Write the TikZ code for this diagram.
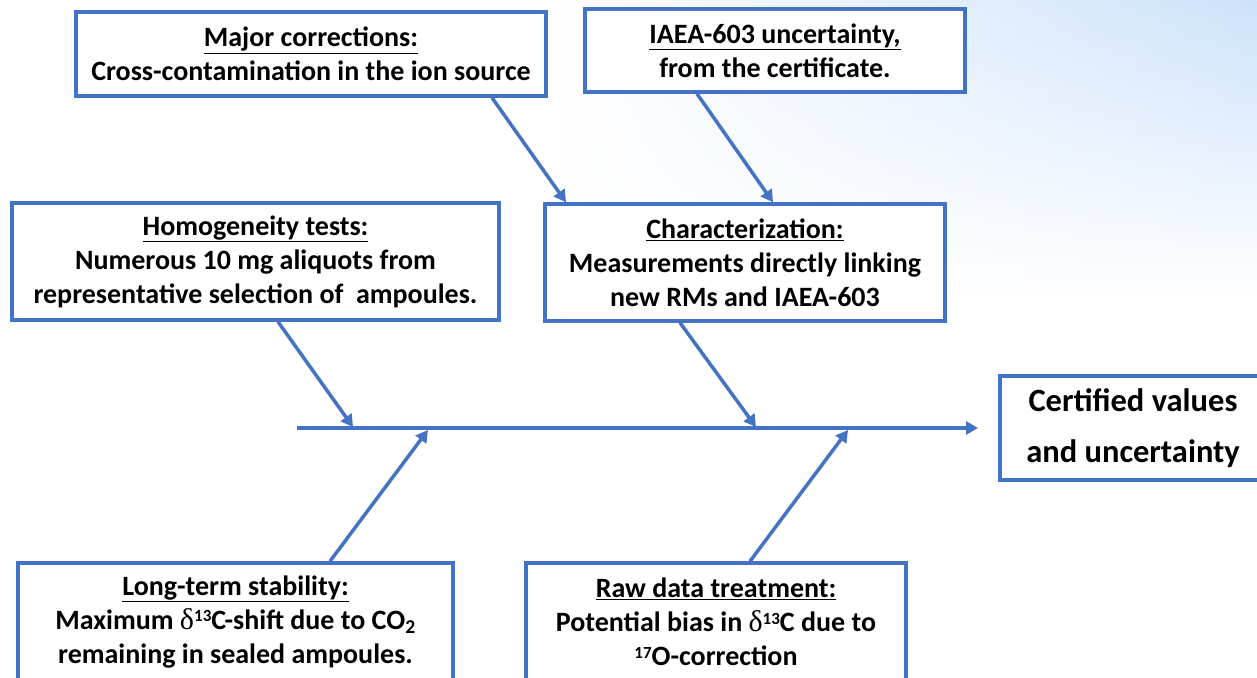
\documentclass[tikz,border=0pt]{standalone}
\usepackage{fontspec}
\setmainfont{Carlito}
\newfontfamily\dfont{Liberation Serif}
\usetikzlibrary{arrows.meta,fadings}
\definecolor{fblue}{HTML}{4472C4}
\definecolor{bgblue}{RGB}{205,226,251}
\tikzfading[name=fadeleftside, left color=transparent!100, right color=transparent!0]
\tikzset{
  box/.style={draw=fblue, line width=3.5pt, fill=white, align=center, inner sep=0pt,
    font=\bfseries\fontsize{28}{34}\selectfont},
  conn/.style={draw=fblue, line width=3.5pt, -{Triangle[length=12pt,width=13pt]}},
}
\newcommand{\dl}{{\dfont\mdseries\fontsize{30}{34}\selectfont δ}}
\newcommand{\sups}[1]{\raisebox{0.55ex}{\fontsize{17}{20}\selectfont #1}}
\begin{document}
\begin{tikzpicture}[x=1pt,y=-1pt]
\useasboundingbox (0,0) rectangle (1257,677);
\clip (0,0) rectangle (1257,677);
\fill[white] (0,0) rectangle (1257,677);
\shade[top color=bgblue, bottom color=white, path fading=fadeleftside] (560,0) rectangle (1257,300);

\node[box, minimum width=470, minimum height=84] (A) at (311,54)
  {\underline{Major corrections:}\\Cross-contamination in the ion source};
\node[box, minimum width=380, minimum height=83] (B) at (775,50.5)
  {\underline{IAEA-603 uncertainty,}\\from the certificate.};
\node[box, minimum width=487, minimum height=117] (C) at (255.5,261.5)
  {\underline{Homogeneity tests:}\\Numerous 10 mg aliquots from\\representative selection of\ \ ampoules.};
\node[box, minimum width=400, minimum height=117] (D) at (745,262.5)
  {\underline{Characterization:}\\Measurements directly linking\\new RMs and IAEA-603};
\node[box, minimum width=266, minimum height=104, font=\bfseries\fontsize{32.5}{51}\selectfont] (E) at (1133,428)
  {Certified values\\and uncertainty};
\node[box, minimum width=435, minimum height=118] (F) at (235.5,622)
  {\underline{Long-term stability:}\\Maximum \dl\sups{13}C-shift due to CO\textsubscript{2}\\remaining in sealed ampoules.};
\node[box, minimum width=380, minimum height=118] (G) at (716,622)
  {\underline{Raw data treatment:}\\Potential bias in \dl\sups{13}C due to\\\sups{17}O-correction};

\coordinate (sp0) at (297,428);
\coordinate (sp1) at (978,428);
\draw[conn] (sp0) -- (sp1);

\coordinate (c1) at (353,427);
\coordinate (c2) at (428,430);
\coordinate (c3) at (756,427);
\coordinate (c4) at (848,430);

\draw[conn] ([xshift=181]A.south) -- ([xshift=-179]D.north);
\draw[conn] ([xshift=-78]B.south) -- ([xshift=28]D.north);
\draw[conn] ([xshift=22.5]C.south) -- (c1);
\draw[conn] ([xshift=-65]D.south) -- (c3);
\draw[conn] ([xshift=94.5]F.north) -- (c2);
\draw[conn] ([xshift=34]G.north) -- (c4);
\end{tikzpicture}
\end{document}
